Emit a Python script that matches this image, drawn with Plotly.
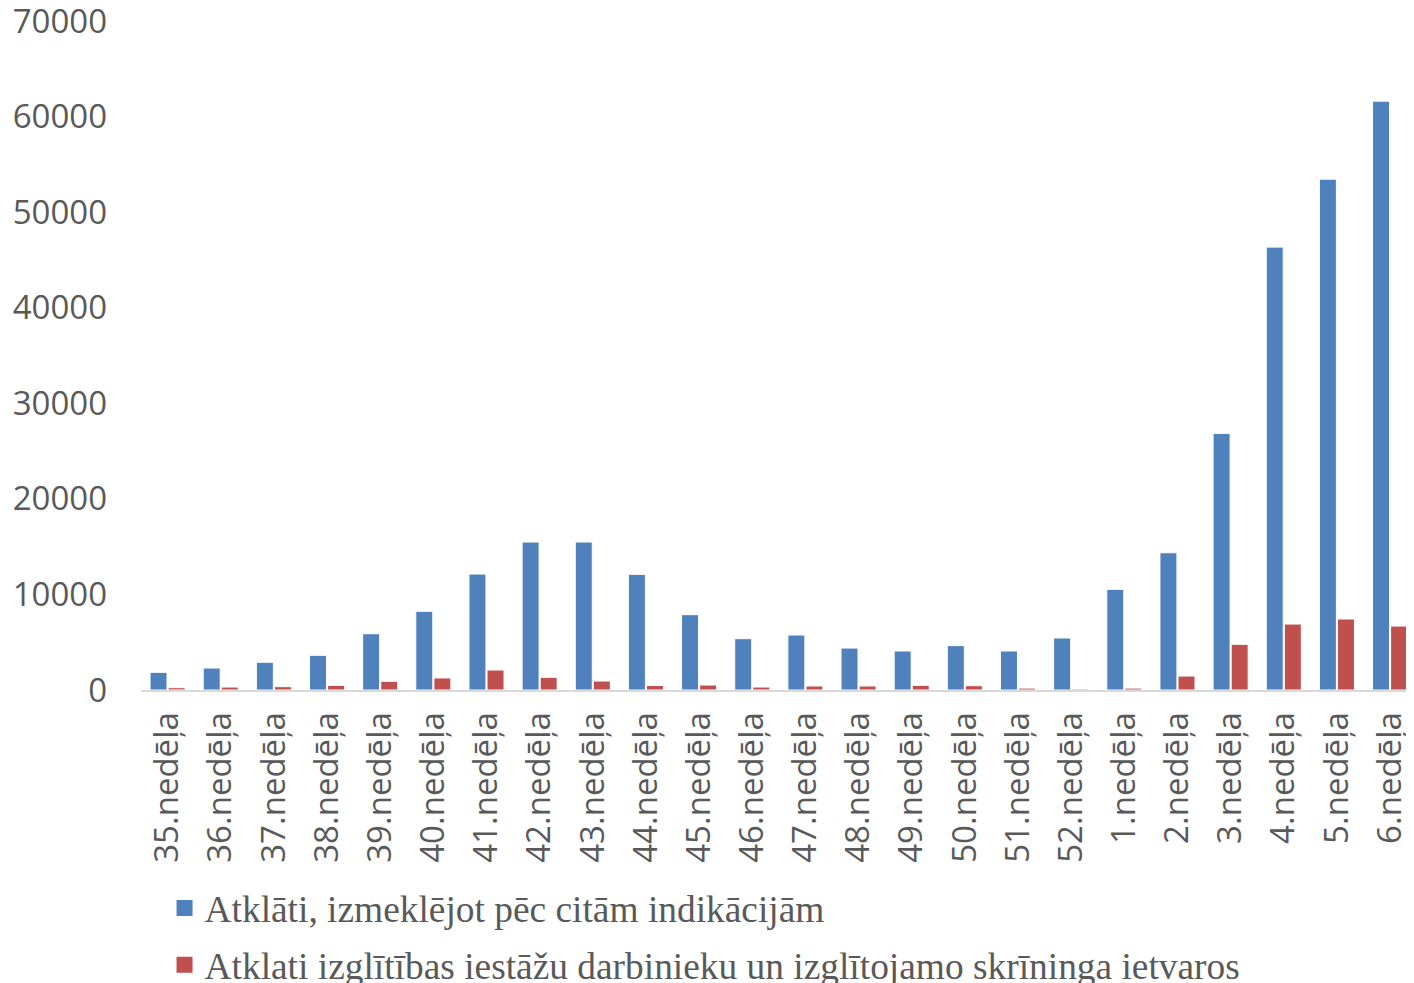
import plotly.graph_objects as go

weeks = ["35.nedēļa", "36.nedēļa", "37.nedēļa", "38.nedēļa", "39.nedēļa", "40.nedēļa",
         "41.nedēļa", "42.nedēļa", "43.nedēļa", "44.nedēļa", "45.nedēļa", "46.nedēļa",
         "47.nedēļa", "48.nedēļa", "49.nedēļa", "50.nedēļa", "51.nedēļa", "52.nedēļa",
         "1.nedēļa", "2.nedēļa", "3.nedēļa", "4.nedēļa", "5.nedēļa", "6.nedēļa"]

other_indications = [1850, 2300, 2900, 3630, 5890, 8230, 12130, 15480, 15480, 12100,
                     7880, 5370, 5750, 4390, 4080, 4640, 4080, 5440, 10530, 14360,
                     26850, 46340, 53450, 61610]

school_screening = [240, 310, 350, 490, 910, 1260, 2090, 1330, 940, 470,
                    520, 310, 420, 420, 490, 450, 200, 100, 200, 1460,
                    4780, 6900, 7430, 6690]

y_ticks = [0, 10000, 20000, 30000, 40000, 50000, 60000, 70000]

name_blue = "Atklāti, izmeklējot pēc citām indikācijām"
name_red = "Atklati izglītības iestāžu darbinieku un izglītojamo skrīninga ietvaros"
blue = "#4F81BD"
red = "#C0504D"

fig = go.Figure()
fig.add_trace(go.Bar(x=weeks, y=other_indications, name=name_blue, showlegend=False,
                     marker=dict(color=blue, line=dict(color="#FFFFFF", width=1))))
fig.add_trace(go.Bar(x=weeks, y=school_screening, name=name_red, showlegend=False,
                     marker=dict(color=red, line=dict(color="#FFFFFF", width=1))))
# legend entries (square swatches)
fig.add_trace(go.Scatter(x=[None], y=[None], mode="markers", name=name_blue,
                         marker=dict(symbol="square", size=17, color=blue),
                         legend="legend"))
fig.add_trace(go.Scatter(x=[None], y=[None], mode="markers", name=name_red,
                         marker=dict(symbol="square", size=17, color=red),
                         legend="legend2"))

tick_font = dict(family="Open Sans", size=33, color="#595959")
xtick_font = dict(family="Open Sans", size=33, color="#595959")
leg_font = dict(family="Liberation Serif", size=37.4, color="#595959")

# the page body adds an 8px offset, so the figure is 8px smaller than the window
fig.update_layout(
    width=1406, height=975,
    margin=dict(l=133, r=0, t=13, b=293, autoexpand=False),
    paper_bgcolor="white", plot_bgcolor="white",
    barmode="group", bargap=0.32, bargroupgap=0.06,
    showlegend=True,
    legend=dict(x=0.0185, y=-0.326, xanchor="left", yanchor="middle",
                font=leg_font, bgcolor="rgba(0,0,0,0)", itemsizing="trace"),
    legend2=dict(x=0.0185, y=-0.411, xanchor="left", yanchor="middle",
                 font=leg_font, bgcolor="rgba(0,0,0,0)", itemsizing="trace"),
    xaxis=dict(type="category", categoryorder="array", categoryarray=weeks,
               range=[-0.5, 23.45], tickangle=-90, automargin=False,
               tickfont=xtick_font, showline=True, linecolor="#D9D9D9", linewidth=2,
               showgrid=False, ticks="", ticklabelstandoff=7,
               ticklabeloverflow="allow"),
    yaxis=dict(range=[0, 70000], tickmode="array", tickvals=y_ticks,
               ticktext=[str(v) for v in y_ticks], tickfont=tick_font,
               automargin=False, showgrid=False, zeroline=False, showline=False,
               ticks="", ticklabelstandoff=33, ticklabeloverflow="allow"),
)

fig.write_html("out.html")
